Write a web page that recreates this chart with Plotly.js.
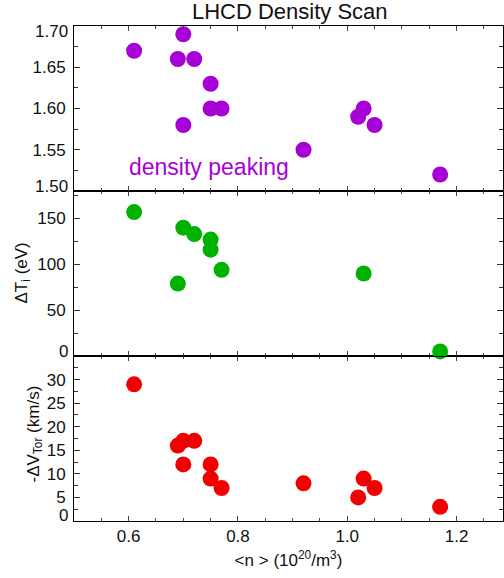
<!DOCTYPE html>
<html><head><meta charset="utf-8">
<script src="https://cdn.plot.ly/plotly-3.0.1.min.js"></script>
<style>html,body{margin:0;padding:0;background:#fff}#chart{width:504px;height:578px}</style>
</head><body><div id="chart"></div>
<script>
// Data
const nPeak = [0.61,0.69,0.70,0.70,0.72,0.75,0.75,0.77,0.92,1.02,1.03,1.05,1.17];
const peaking = [1.67,1.66,1.69,1.58,1.66,1.63,1.60,1.60,1.55,1.59,1.60,1.58,1.52];
const nTi = [0.61,0.69,0.70,0.72,0.75,0.75,0.77,1.03,1.17];
const dTi = [157,79,140,133,127,116,94,90,5];
const nV = [0.61,0.69,0.70,0.70,0.72,0.75,0.75,0.77,0.92,1.02,1.03,1.05,1.17];
const dV = [29,16,17,12,17,12,9,7,8,5,9,7,3];

const xTickVals = [0.6,0.8,1.0,1.2];
const xTickText = ['0.6','0.8','1.0','1.2'];
const peakTicks = [1.50,1.55,1.60,1.65,1.70];
const peakText = ['1.50','1.55','1.60','1.65','1.70'];
const tiTicks = [0,50,100,150];
const tiText = ['0','50','100','150'];
const vTicks = [0,5,10,15,20,25,30];
const vText = ['0','5','10','15','20','25','30'];

const FONT = 'Liberation Sans, Arial, Helvetica, sans-serif';
const purple = '#A700D6', green = '#00B200', red = '#F00000';
const MS = 16;

const traces = [
  {x:nPeak, y:peaking, xaxis:'x3', yaxis:'y3', mode:'markers', type:'scatter', cliponaxis:false,
   marker:{color:purple, size:MS}},
  {x:nTi, y:dTi, xaxis:'x2', yaxis:'y2', mode:'markers', type:'scatter', cliponaxis:false,
   marker:{color:green, size:MS}},
  {x:nV, y:dV, xaxis:'x', yaxis:'y', mode:'markers', type:'scatter', cliponaxis:false,
   marker:{color:red, size:MS}}
];

const xr = [0.5, 1.285];
function xax(anchor, showLabels){
  return {range:xr, anchor:anchor, showline:true, linecolor:'#000', linewidth:1, mirror:'allticks',
    ticks:'inside', ticklen:5, tickwidth:1, tickcolor:'#444', tickmode:'array', tickvals:xTickVals, ticktext:xTickText,
    showticklabels:showLabels, showgrid:false, zeroline:false,
    minor:{dtick:0.05, ticks:'inside', ticklen:3, tickcolor:'#444', tickwidth:1, showgrid:false},
    tickfont:{family:FONT, size:17, color:'#111'}};
}
function yax(domain, range, vals, texts, minor){
  return {domain:domain, range:range, showline:true, linecolor:'#000', linewidth:1, mirror:'allticks',
    ticks:'inside', ticklen:6, tickwidth:1, tickcolor:'#333', tickmode:'array',
    tickvals:vals, ticktext:texts, showgrid:false, zeroline:false, ticklabelstandoff:4,
    minor:{dtick:minor, ticks:'inside', ticklen:4, tickcolor:'#333', tickwidth:1, showgrid:false},
    tickfont:{family:FONT, size:17, color:'#111'}};
}

// end labels (first/last) are drawn as annotations nudged inward, as in the reference
const yPeak = yax([2/3,1],[1.50,1.70], peakTicks.slice(1,-1), peakText.slice(1,-1), 0.025);
yPeak.anchor='x3';
const yTi = yax([1/3,2/3],[0,180], tiTicks.slice(1), tiText.slice(1), 25);
yTi.anchor='x2';
const yV = yax([0,1/3],[0,35], vTicks.slice(1), vText.slice(1), 2.5);
yV.anchor='x';

const xBottom = xax('y', true);
xBottom.title = {text:'<n > (10<sup>20</sup>/m<sup>3</sup>)', font:{family:FONT, size:17, color:'#111'}, standoff:8};
const x2 = xax('y2', false); x2.matches='x';
const x3 = xax('y3', false); x3.matches='x';

function endLabel(text, yref, y, shift){
  return {text:text, xref:'paper', x:0, xanchor:'right', xshift:-4, yref:yref, y:y, yanchor:'middle',
    yshift:shift, showarrow:false, font:{family:FONT, size:17, color:'#111'}};
}
function yTitle(text, yref, y, xshift, yshift){
  return {text:text, xref:'paper', x:0, xanchor:'center', xshift:xshift, yref:yref, y:y, yanchor:'middle',
    yshift:yshift, textangle:-90, showarrow:false, font:{family:FONT, size:17, color:'#111'}};
}

const layout = {
  width:504, height:578,
  margin:{l:74, r:1, t:26, b:57},
  paper_bgcolor:'#fff', plot_bgcolor:'#fff',
  showlegend:false,
  title:{text:'LHCD Density Scan', font:{family:FONT, size:22, color:'#111'}, x:0.575, xanchor:'center', y:0.98, yanchor:'middle'},
  xaxis:xBottom, xaxis2:x2, xaxis3:x3,
  yaxis:yV, yaxis2:yTi, yaxis3:yPeak,
  annotations:[
    endLabel(peakText[peakText.length-1], 'y3', peakTicks[peakTicks.length-1], -5),
    endLabel(peakText[0], 'y3', peakTicks[0], 5),
    endLabel(tiText[0], 'y2', tiTicks[0], 5),
    endLabel(vText[0], 'y', vTicks[0], 6),
    yTitle('ΔT<sub>i</sub> (eV)', 'y2 domain', 0.5, -52, 0),
    yTitle('-ΔV<sub>Tor</sub> (km/s)', 'y domain', 0.5, -40, 4),
    {text:'density peaking', xref:'x3', yref:'y3', x:0.6, y:1.529, xanchor:'left', yanchor:'middle', xshift:-2,
     showarrow:false, font:{family:FONT, size:23, color:purple}}
  ]
};

Plotly.newPlot('chart', traces, layout, {displayModeBar:false, staticPlot:true});
</script></body></html>
